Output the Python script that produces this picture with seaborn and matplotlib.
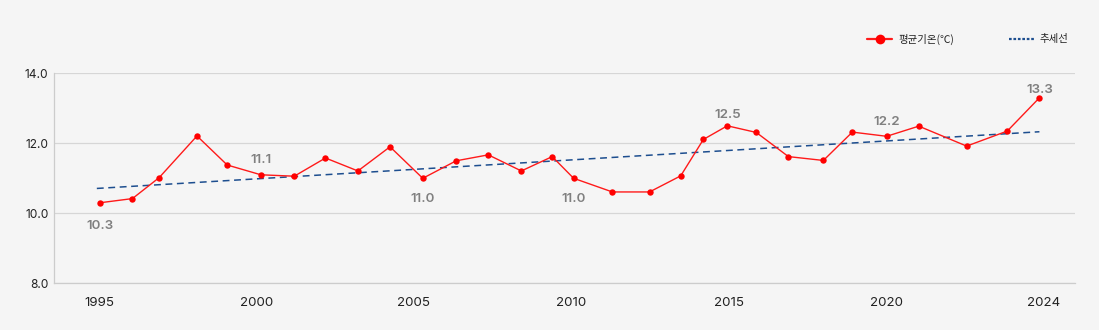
import matplotlib
matplotlib.use("Agg")
import matplotlib.pyplot as plt
from matplotlib.lines import Line2D
import seaborn as sns
import pandas as pd

# Annual mean temperature series (time index in years from 1995 on the chart axis)
time_idx = [0.02, 1.06, 1.91, 3.11, 4.07, 5.14, 6.20, 7.19, 8.22, 9.24,
            10.28, 11.34, 12.36, 13.41, 14.39, 15.07, 16.30, 17.48, 18.47, 19.19,
            19.95, 20.87, 21.89, 23.00, 23.92, 25.01, 26.03, 27.55, 28.84, 29.86]
mean_temp = [10.3, 10.42, 11.02, 12.21, 11.38, 11.1, 11.06, 11.58, 11.21, 11.9,
             11.0, 11.5, 11.67, 11.21, 11.62, 11.0, 10.61, 10.61, 11.07, 12.11,
             12.5, 12.31, 11.62, 11.51, 12.32, 12.2, 12.49, 11.92, 12.35, 13.3]

# Linear trend endpoints
trend_idx = [-0.07, 29.86]
trend_val = [10.71, 12.33]

# Annotated points (index into the series)
label_points = [0, 5, 10, 15, 20, 25, 29]

tick_pos = [0, 5, 10, 15, 20, 25, 30]
tick_labels = ["1995", "2000", "2005", "2010", "2015", "2020", "2024"]
y_ticks = [8.0, 10.0, 12.0, 14.0]

sns.set_theme(style="white")
plt.rcParams["font.family"] = ["Noto Sans CJK KR", "DejaVu Sans"]
latin = ["Inter", "DejaVu Sans"]

bg = "#f5f5f5"
fig = plt.figure(figsize=(10.99, 3.30), dpi=100, facecolor=bg)
ax = fig.add_axes([54 / 1099, 1 - 283.3 / 330, (1075 - 54) / 1099, (283.3 - 73.3) / 330])
ax.set_facecolor(bg)

df = pd.DataFrame({"t": time_idx, "temp": mean_temp})
tr = pd.DataFrame({"t": trend_idx, "v": trend_val})

sns.lineplot(data=tr, x="t", y="v", ax=ax, color="#1d4e8f", linewidth=1.1,
             linestyle=(0, (4.5, 3)), zorder=2)
sns.lineplot(data=df, x="t", y="temp", ax=ax, color="#ff1a1a", linewidth=1.0,
             marker="o", markersize=4.6, markeredgewidth=0, markerfacecolor="#ff0000",
             zorder=3)

# vertical label offsets in points (negative = below the marker)
label_offsets = [-16.6, 10.6, -14.9, -14.9, 7.8, 10.5, 5.6]
for i, off in zip(label_points, label_offsets):
    ax.annotate(f"{mean_temp[i]:.1f}", (time_idx[i], mean_temp[i]),
                xytext=(0, off), textcoords="offset points",
                ha="center", va="center", fontsize=9.6, fontweight="semibold",
                color="#808080", family=latin)

ax.set_xlim(-1.43, 30.99)
ax.set_ylim(8, 14)
ax.set_yticks(y_ticks)
ax.set_yticklabels([f"{v:.1f}" for v in y_ticks], family=latin,
                   fontsize=8.6, color="#222222")
ax.set_xticks(tick_pos)
ax.set_xticklabels(tick_labels, family=latin, fontsize=9.6, color="#222222")
ax.tick_params(axis="y", length=0, pad=4)
ax.tick_params(axis="x", length=5, width=0.8, color="#d0d0d0", pad=5, direction="out")
ax.set_xlabel("")
ax.set_ylabel("")

ax.yaxis.grid(True, color="#d6d6d6", linewidth=0.9)
ax.set_axisbelow(True)
for s in ["top", "right"]:
    ax.spines[s].set_visible(False)
for s in ["left", "bottom"]:
    ax.spines[s].set_color("#cccccc")
    ax.spines[s].set_linewidth(0.9)

# Legend at the top right
handles = [
    Line2D([], [], color="#ff1a1a", linewidth=1.6, marker="o", markersize=7,
           markerfacecolor="#ff0000", markeredgewidth=0),
    Line2D([], [], color="#1d4e8f", linewidth=1.6, linestyle=(0, (1.2, 0.8))),
]
leg = fig.legend(handles, ["평균기온(℃)", "추세선"], loc="center left",
                 bbox_to_anchor=(858 / 1099, 1 - 39 / 330), ncol=2, frameon=False,
                 fontsize=7.5, handlelength=2.4, handletextpad=0.6, columnspacing=5.2)
for t in leg.get_texts():
    t.set_color("#222222")

fig.savefig("out.png", dpi=100, facecolor=bg)
